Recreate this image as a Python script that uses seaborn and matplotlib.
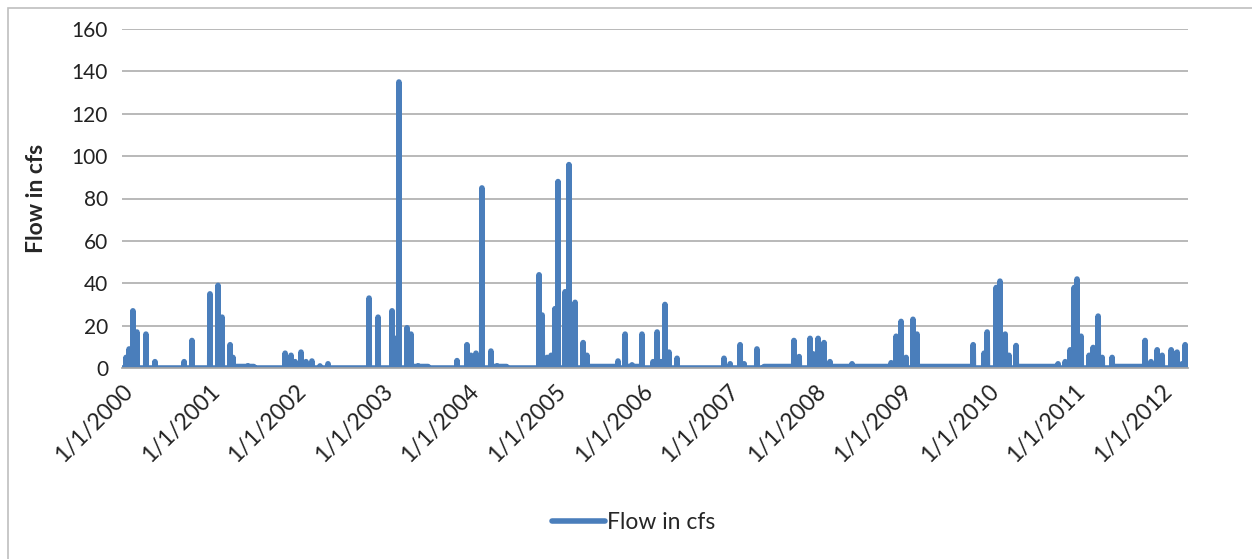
import matplotlib
matplotlib.use("Agg")
import matplotlib.pyplot as plt
import matplotlib.dates as mdates
import matplotlib.patches as mpatches
import numpy as np
import pandas as pd
import seaborn as sns

# ---- data (daily flow, cfs) ----
series_name = "Flow in cfs"
start_date = "2000-01-01"
end_date = "2012-04-23"

event_dates = [
    "2000-01-18", "2000-01-31", "2000-02-16", "2000-03-04", "2000-04-11", "2000-05-19",
    "2000-09-19", "2000-10-22", "2001-01-06", "2001-02-09", "2001-02-26", "2001-04-01",
    "2001-04-13", "2001-06-15", "2001-11-19", "2001-12-14", "2001-12-31", "2002-01-25",
    "2002-02-15", "2002-03-12", "2002-04-15", "2002-05-19", "2002-11-08", "2002-12-16",
    "2003-02-13", "2003-02-26", "2003-03-14", "2003-04-17", "2003-05-04", "2003-06-03",
    "2003-11-14", "2003-12-26", "2004-01-12", "2004-02-02", "2004-02-27", "2004-04-05",
    "2004-05-01", "2004-10-25", "2004-11-07", "2004-11-28", "2004-12-15", "2004-12-31",
    "2005-01-13", "2005-02-12", "2005-02-28", "2005-03-26", "2005-04-29", "2005-05-15",
    "2005-09-23", "2005-10-23", "2005-11-21", "2006-01-02", "2006-02-18", "2006-03-07",
    "2006-03-24", "2006-04-09", "2006-04-26", "2006-05-30", "2006-12-14", "2007-01-09",
    "2007-02-20", "2007-03-09", "2007-05-02", "2007-10-05", "2007-10-27", "2007-12-12",
    "2007-12-25", "2008-01-15", "2008-02-09", "2008-03-05", "2008-06-06", "2008-11-18",
    "2008-12-09", "2008-12-30", "2009-01-20", "2009-02-18", "2009-03-07", "2009-10-30",
    "2009-12-15", "2009-12-28", "2010-02-04", "2010-02-20", "2010-03-14", "2010-03-30",
    "2010-04-29", "2010-10-23", "2010-11-22", "2010-12-13", "2010-12-30", "2011-01-11",
    "2011-01-28", "2011-03-03", "2011-03-20", "2011-04-10", "2011-04-27", "2011-06-08",
    "2011-10-25", "2011-11-19", "2011-12-15", "2012-01-05", "2012-02-12", "2012-02-20",
    "2012-03-08", "2012-03-29", "2012-04-11",
]
event_flows = [
    5, 9, 27, 17, 16, 3,
    3, 13, 35, 39, 24, 11,
    5, 1, 7, 6, 3, 7.5,
    3, 3.3, 1, 2, 33, 24,
    27, 14, 135, 19, 16, 1,
    3.5, 11, 6, 7, 85, 8,
    1, 44, 25, 5, 6, 28,
    88, 36, 96, 31, 12, 6,
    3.3, 16, 1.5, 16, 3, 17,
    3, 30, 7.5, 4.6, 4.6, 2,
    11, 2, 9, 13, 5.4, 14,
    6.7, 14, 12, 3, 2, 2.5,
    15, 22, 5, 23, 16, 11,
    7, 17, 38, 41, 16, 6,
    10.6, 2, 3, 8.6, 38, 42,
    15, 6, 9.7, 24.5, 5, 5,
    13, 3, 8.6, 6, 8.6, 7,
    7.5, 2, 11,
]

# low base-flow periods (start, end, flow)
base_starts = ["2001-04-20", "2003-05-10", "2004-04-10", "2005-05-20", "2005-10-25",
               "2007-06-01", "2008-03-10", "2009-03-15", "2010-05-05", "2011-06-15"]
base_ends = ["2001-07-10", "2003-07-15", "2004-06-10", "2005-09-10", "2005-12-20",
             "2007-09-25", "2008-11-10", "2009-10-20", "2010-10-15", "2011-10-15"]
base_flows = [0.7, 0.7, 0.7, 0.7, 0.7, 0.7, 0.7, 0.7, 0.7, 0.7]

tick_years = list(range(2000, 2013))
y_ticks = [0, 20, 40, 60, 80, 100, 120, 140, 160]

# ---- assemble daily table ----
days = pd.date_range(start_date, end_date, freq="D")
flow = pd.Series(0.0, index=days)
for s, e, v in zip(base_starts, base_ends, base_flows):
    flow[s:e] = v
for d, v in zip(event_dates, event_flows):
    flow[pd.Timestamp(d)] = v
df = pd.DataFrame({"date": days, series_name: flow.values})

# ---- plot ----
sns.set_theme(style="white")
plt.rcParams["font.family"] = ["Lato", "DejaVu Sans"]

fig = plt.figure(figsize=(12.52, 5.59), dpi=100)
ax = fig.add_axes([122 / 1252, 1 - 368 / 559, (1188 - 122) / 1252, (368 - 29) / 559])

line_color = "#4A7EBB"
sns.lineplot(data=df, x="date", y=series_name, ax=ax, color=line_color,
             linewidth=4.0, estimator=None, label=series_name)

ax.set_xlim(pd.Timestamp(start_date), pd.Timestamp(end_date))
ax.set_ylim(0, 160)
ax.set_yticks(y_ticks)
ax.yaxis.grid(True, color="#A6A6A6", linewidth=1.1)
ax.xaxis.grid(False)
ax.set_axisbelow(True)
for side in ["top", "right", "left"]:
    ax.spines[side].set_visible(False)
ax.spines["bottom"].set_color("#A6A6A6")

ticks = [pd.Timestamp(f"{y}-01-01") for y in tick_years]
ax.set_xticks(ticks)
ax.set_xticklabels([f"1/1/{y}" for y in tick_years], rotation=45, ha="right",
                   rotation_mode="anchor", fontsize=16.5, color="#222222")
ax.tick_params(axis="y", labelsize=15, labelcolor="#222222", pad=10, length=0)
ax.tick_params(axis="x", length=0, pad=9)

ax.set_xlabel("")
ax.set_ylabel(series_name, fontsize=16.5, fontweight="bold", labelpad=18)

ax.legend(loc="center", bbox_to_anchor=(0.48, -0.455), frameon=False, fontsize=16.5,
          handlelength=2.3, handletextpad=0.1)

# chart-area frame
fig.patches.append(mpatches.Rectangle((8 / 1252, -0.05), 1.1, 1 - 8 / 559 + 0.05,
                                      transform=fig.transFigure, fill=False,
                                      edgecolor="#BFBFBF", linewidth=1.2))

fig.savefig("out.png", dpi=100)
